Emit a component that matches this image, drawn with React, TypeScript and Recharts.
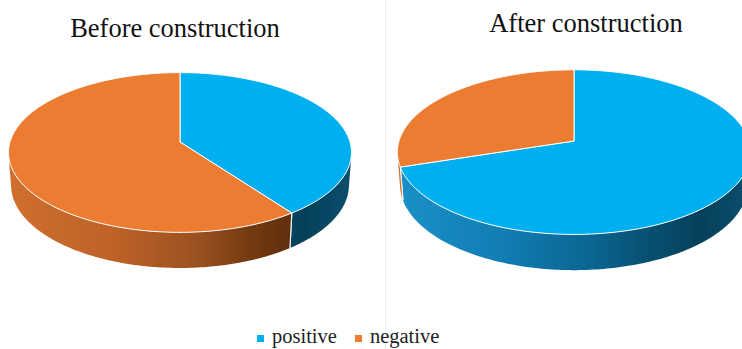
import React from 'react';
import { PieChart, Pie, Cell, Legend } from 'recharts';

// Sentiment share before and after construction
const categories = ['positive', 'negative'];
const beforeValues = [40, 60];
const afterValues = [70, 30];
const chartTitles = ['Before construction', 'After construction'];

const topColors: Record<string, string> = {
  positive: '#00AFEF',
  negative: '#EB7C31',
};

// Horizontal shading of the side walls (left -> right)
const wallStops: Record<string, [number, string][]> = {
  positive: [
    [0, '#1a90c8'],
    [0.3, '#117db3'],
    [0.55, '#0a6590'],
    [0.72, '#074f70'],
    [0.86, '#05405a'],
    [1, '#0b4e6d'],
  ],
  negative: [
    [0, '#cf6f2f'],
    [0.3, '#be6228'],
    [0.55, '#9a5120'],
    [0.7, '#763a11'],
    [0.84, '#5d2e0d'],
    [1, '#6e3c1a'],
  ],
};

const beforeData = categories.map((name, i) => ({ name, value: beforeValues[i] }));
const afterData = categories.map((name, i) => ({ name, value: afterValues[i] }));

// Perspective view of a flat disc
const TILT = (27.5 * Math.PI) / 180;
const VIEW_DIST = 1150;
const THICKNESS = 37;

function project(cx: number, cy: number, r: number, deg: number, h: number): [number, number] {
  const t = (deg * Math.PI) / 180;
  const x = r * Math.cos(t);
  const z = r * Math.sin(t);
  const s = Math.sin(TILT);
  const c = Math.cos(TILT);
  const zc = VIEW_DIST + z * c - h * s;
  const yc = z * s + h * c;
  return [cx + (VIEW_DIST * x) / zc, cy - (VIEW_DIST * yc) / zc];
}

function rim(cx: number, cy: number, r: number, a: number, b: number, h: number) {
  const n = Math.max(2, Math.ceil(Math.abs(b - a)));
  const pts: [number, number][] = [];
  for (let i = 0; i <= n; i++) {
    pts.push(project(cx, cy, r, a + ((b - a) * i) / n, h));
  }
  return pts;
}

const fmt = (p: [number, number]) => `${p[0].toFixed(2)},${p[1].toFixed(2)}`;

const TopFace = (props: any) => {
  const { cx, cy, outerRadius, startAngle, endAngle, fill } = props;
  const pts = rim(cx, cy, outerRadius, startAngle, endAngle, 0);
  const d = `M${cx},${cy} ` + pts.map((p) => `L${fmt(p)}`).join(' ') + ' Z';
  return <path d={d} fill={fill} stroke="#ffffff" strokeWidth={1} strokeLinejoin="round" />;
};

const makeWall = (chartKey: string) => (props: any) => {
  const { cx, cy, outerRadius: r, startAngle, endAngle } = props;
  const name: string = props.payload?.name ?? props.name;
  const lo = Math.min(startAngle, endAngle);
  const hi = Math.max(startAngle, endAngle);
  const alpha = (Math.asin(Math.min(1, r / (VIEW_DIST * Math.cos(TILT)))) * 180) / Math.PI;
  const vis0 = 180 + alpha;
  const vis1 = 360 - alpha;
  const segments: [number, number][] = [];
  for (let k = -2; k <= 1; k++) {
    const a = Math.max(lo, vis0 + 360 * k);
    const b = Math.min(hi, vis1 + 360 * k);
    if (b > a) segments.push([a, b]);
  }
  const gid = `wall-${chartKey}-${name}`;
  const isVisible = (deg: number) => {
    const n = ((deg % 360) + 360) % 360;
    return n > vis0 && n < vis1;
  };
  return (
    <g>
      <defs>
        <linearGradient id={gid} gradientUnits="userSpaceOnUse" x1={cx - r} x2={cx + r} y1={0} y2={0}>
          {wallStops[name].map(([o, c]) => (
            <stop key={o} offset={o} stopColor={c} />
          ))}
        </linearGradient>
      </defs>
      {segments.map(([a, b], i) => {
        const top = rim(cx, cy, r, a, b, 0);
        const bottom = rim(cx, cy, r, b, a, -THICKNESS);
        const d =
          `M${fmt(top[0])} ` +
          top.slice(1).map((p) => `L${fmt(p)}`).join(' ') +
          ' ' +
          bottom.map((p) => `L${fmt(p)}`).join(' ') +
          ' Z';
        return <path key={i} d={d} fill={`url(#${gid})`} stroke="none" />;
      })}
      {[startAngle, endAngle].filter(isVisible).map((deg, i) => {
        const p0 = project(cx, cy, r, deg, 0);
        const p1 = project(cx, cy, r, deg, -THICKNESS);
        return (
          <line key={`e${i}`} x1={p0[0]} y1={p0[1]} x2={p1[0]} y2={p1[1]} stroke="#f3efe8" strokeWidth={1.2} />
        );
      })}
    </g>
  );
};

const beforeWall = makeWall('before');
const afterWall = makeWall('after');

const serif = '"Liberation Serif", "DejaVu Serif", serif';

const renderLegend = () => (
  <div
    style={{
      display: 'flex',
      alignItems: 'center',
      marginLeft: 257,
      fontFamily: serif,
      fontSize: 20.5,
      lineHeight: '22px',
      color: '#222222',
    }}
  >
    {categories.map((name) => (
      <div key={name} style={{ display: 'flex', alignItems: 'center', marginRight: 18 }}>
        <span
          style={{
            display: 'inline-block',
            width: 7,
            height: 7,
            background: topColors[name],
            marginRight: 8,
            marginTop: 4,
          }}
        />
        <span style={{ fontFamily: serif }}>{name}</span>
      </div>
    ))}
  </div>
);

const titleStyle: React.CSSProperties = {
  position: 'absolute',
  fontFamily: serif,
  fontSize: 26.5,
  lineHeight: '26px',
  color: '#111111',
  textAlign: 'center',
  whiteSpace: 'nowrap',
};

export default function App() {
  return (
    <div
      style={{
        position: 'absolute',
        left: 0,
        top: 0,
        width: 742,
        height: 349,
        background: '#ffffff',
        overflow: 'hidden',
      }}
    >
      <div style={{ position: 'absolute', left: 385, top: 0, width: 1, height: 349, background: '#efefef' }} />
      <PieChart width={742} height={349} margin={{ top: 0, right: 0, bottom: 0, left: 0 }}>
        <Pie
          data={beforeData}
          dataKey="value"
          nameKey="name"
          cx={180}
          cy={142}
          outerRadius={170}
          startAngle={90}
          endAngle={-270}
          isAnimationActive={false}
          shape={beforeWall}
          inactiveShape={beforeWall}
        >
          {beforeData.map((d) => (
            <Cell key={d.name} fill={topColors[d.name]} />
          ))}
        </Pie>
        <Pie
          data={afterData}
          dataKey="value"
          nameKey="name"
          cx={574}
          cy={141}
          outerRadius={175}
          startAngle={90}
          endAngle={-270}
          isAnimationActive={false}
          shape={afterWall}
          inactiveShape={afterWall}
        >
          {afterData.map((d) => (
            <Cell key={d.name} fill={topColors[d.name]} />
          ))}
        </Pie>
        <Pie
          data={beforeData}
          dataKey="value"
          nameKey="name"
          cx={180}
          cy={142}
          outerRadius={170}
          startAngle={90}
          endAngle={-270}
          isAnimationActive={false}
          shape={TopFace}
          inactiveShape={TopFace}
        >
          {beforeData.map((d) => (
            <Cell key={d.name} fill={topColors[d.name]} />
          ))}
        </Pie>
        <Pie
          data={afterData}
          dataKey="value"
          nameKey="name"
          cx={574}
          cy={141}
          outerRadius={175}
          startAngle={90}
          endAngle={-270}
          isAnimationActive={false}
          shape={TopFace}
          inactiveShape={TopFace}
        >
          {afterData.map((d) => (
            <Cell key={d.name} fill={topColors[d.name]} />
          ))}
        </Pie>
        <Legend content={renderLegend} wrapperStyle={{ left: 0, top: 325, width: 742 }} />
      </PieChart>
      <div style={{ ...titleStyle, left: 0, width: 350, top: 15 }}>{chartTitles[0]}</div>
      <div style={{ ...titleStyle, left: 386, width: 400, top: 10 }}>{chartTitles[1]}</div>
    </div>
  );
}
